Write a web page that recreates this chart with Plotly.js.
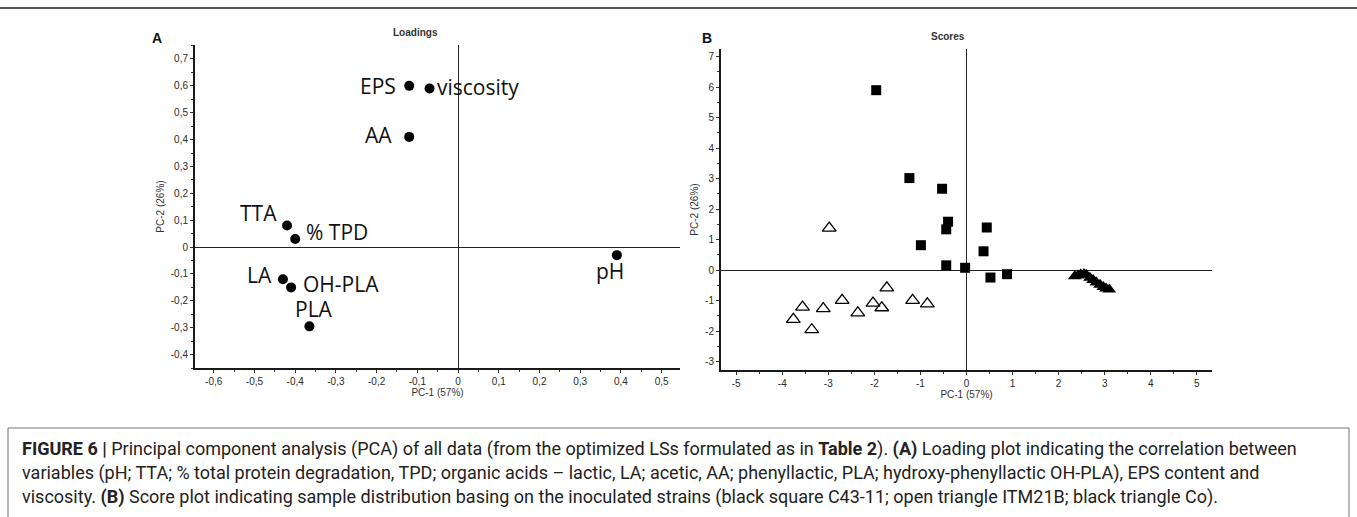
<!DOCTYPE html>
<html>
<head>
<meta charset="utf-8">
<script src="https://cdn.plot.ly/plotly-3.0.1.min.js"></script>
<style>
  html, body { margin: 0; padding: 0; background: #fff; }
  #chart { width: 1357px; height: 517px; }
</style>
</head>
<body>
<div id="chart"></div>
<script>
// ---------- DATA ----------
// Panel A: loadings
const loadLabels = ["EPS", "viscosity", "AA", "TTA", "% TPD", "LA", "OH-PLA", "PLA", "pH"];
const loadPC1 = [-0.12, -0.07, -0.12, -0.42, -0.40, -0.43, -0.41, -0.365, 0.39];
const loadPC2 = [0.60, 0.59, 0.41, 0.08, 0.03, -0.12, -0.15, -0.295, -0.03];

// Panel B: scores
const c43PC1 = [-1.96, -1.24, -0.53, -0.40, -0.44, -0.99, -0.44, -0.03, 0.44, 0.37, 0.52, 0.88];
const c43PC2 = [5.9, 3.02, 2.67, 1.59, 1.34, 0.82, 0.16, 0.08, 1.40, 0.62, -0.24, -0.13];

const itmPC1 = [-2.98, -3.56, -3.76, -3.36, -3.11, -2.70, -2.36, -2.03, -1.84, -1.73, -1.17, -0.85];
const itmPC2 = [1.38, -1.21, -1.61, -1.95, -1.26, -0.99, -1.40, -1.08, -1.23, -0.58, -0.99, -1.10];

const coPC1 = [2.35, 2.42, 2.48, 2.55, 2.60, 2.68, 2.75, 2.82, 2.90, 2.97, 3.03, 3.10];
const coPC2 = [-0.20, -0.17, -0.14, -0.12, -0.15, -0.25, -0.32, -0.40, -0.48, -0.55, -0.60, -0.63];

// Tick labels
const aTickX = [-0.6, -0.5, -0.4, -0.3, -0.2, -0.1, 0, 0.1, 0.2, 0.3, 0.4, 0.5];
const aTickXText = ["-0,6", "-0,5", "-0,4", "-0,3", "-0,2", "-0,1", "0", "0,1", "0,2", "0,3", "0,4", "0,5"];
const aTickY = [-0.4, -0.3, -0.2, -0.1, 0, 0.1, 0.2, 0.3, 0.4, 0.5, 0.6, 0.7];
const aTickYText = ["-0,4", "-0,3", "-0,2", "-0,1", "0", "0,1", "0,2", "0,3", "0,4", "0,5", "0,6", "0,7"];
const bTickX = [-5, -4, -3, -2, -1, 0, 1, 2, 3, 4, 5];
const bTickXText = ["-5", "-4", "-3", "-2", "-1", "0", "1", "2", "3", "4", "5"];
const bTickY = [-3, -2, -1, 0, 1, 2, 3, 4, 5, 6, 7];
const bTickYText = ["-3", "-2", "-1", "0", "1", "2", "3", "4", "5", "6", "7"];

// Texts
const titleA = "Loadings";
const titleB = "Scores";
const axisX = "PC-1 (57%)";
const axisY = "PC-2 (26%)";
const captionLines = [
  "<b>FIGURE 6 |</b> Principal component analysis (PCA) of all data (from the optimized LSs formulated as in <b>Table 2</b>). <b>(A)</b> Loading plot indicating the correlation between",
  "variables (pH; TTA; % total protein degradation, TPD; organic acids – lactic, LA; acetic, AA; phenyllactic, PLA; hydroxy-phenyllactic OH-PLA), EPS content and",
  "viscosity. <b>(B)</b> Score plot indicating sample distribution basing on the inoculated strains (black square C43-11; open triangle ITM21B; black triangle Co)."
];

// ---------- STYLE ----------
const W = 1357, H = 517;
const px = v => v / W;
const py = v => 1 - v / H;
// label placement relative to its point: [xanchor, xshift(px), yshift(px, up +)]
const labelPlace = [
  ["right", -12, 0],    // EPS
  ["left", 6, 2],       // viscosity
  ["right", -16, 2],    // AA
  ["right", -9, 13],    // TTA
  ["left", 10, 7],      // % TPD
  ["right", -10, 4],    // LA
  ["left", 11, 3],      // OH-PLA
  ["center", 5, 17],    // PLA
  ["center", -7, -16]   // pH
];
const labelFont = { family: "Open Sans, sans-serif", size: 21, color: "#111" };
const tickFont = { family: "Liberation Sans, Arial, sans-serif", size: 10, color: "#2a2a2a" };

function axisBase(extra) {
  return Object.assign({
    showgrid: false,
    showline: true,
    linewidth: 2,
    linecolor: "#1a1a1a",
    mirror: false,
    ticks: "outside",
    ticklen: 3,
    tickwidth: 1,
    tickcolor: "#333",
    tickfont: tickFont,
    zeroline: true,
    zerolinecolor: "#222",
    zerolinewidth: 1,
    automargin: false,
    fixedrange: true
  }, extra);
}

const traces = [
  {
    type: "scatter", mode: "markers", name: "loadings",
    x: loadPC1, y: loadPC2, text: loadLabels,
    marker: { symbol: "circle", size: 10, color: "#000" },
    xaxis: "x", yaxis: "y"
  },
  {
    type: "scatter", mode: "markers", name: "C43-11",
    x: c43PC1, y: c43PC2,
    marker: { symbol: "square", size: 10, color: "#000" },
    xaxis: "x2", yaxis: "y2"
  },
  {
    type: "scatter", mode: "markers", name: "ITM21B",
    x: itmPC1, y: itmPC2,
    marker: { symbol: "triangle-up-open", size: 12, color: "#000", line: { width: 1.3, color: "#000" } },
    xaxis: "x2", yaxis: "y2"
  },
  {
    type: "scatter", mode: "markers", name: "Co",
    x: coPC1, y: coPC2,
    marker: { symbol: "triangle-up", size: 12, color: "#000" },
    xaxis: "x2", yaxis: "y2"
  }
];

const annFont = { family: "Liberation Sans, Arial, sans-serif", size: 10, color: "#333" };
const annotations = [
  { xref: "paper", yref: "paper", x: px(415), y: py(33), text: "<b>" + titleA + "</b>", showarrow: false,
    xanchor: "center", yanchor: "middle", font: { family: "Liberation Sans, Arial, sans-serif", size: 10, color: "#333" } },
  { xref: "paper", yref: "paper", x: px(948), y: py(36), text: "<b>" + titleB + "</b>", showarrow: false,
    xanchor: "center", yanchor: "middle", font: { family: "Liberation Sans, Arial, sans-serif", size: 10, color: "#333" } },
  { xref: "paper", yref: "paper", x: px(157), y: py(38), text: "<b>A</b>", showarrow: false,
    xanchor: "center", yanchor: "middle", font: { family: "Liberation Sans, Arial, sans-serif", size: 14, color: "#111" } },
  { xref: "paper", yref: "paper", x: px(707), y: py(38), text: "<b>B</b>", showarrow: false,
    xanchor: "center", yanchor: "middle", font: { family: "Liberation Sans, Arial, sans-serif", size: 14, color: "#111" } }
];
loadLabels.forEach((lab, i) => {
  const p = labelPlace[i];
  annotations.push({
    xref: "x", yref: "y", x: loadPC1[i], y: loadPC2[i], text: lab, showarrow: false,
    xanchor: p[0], yanchor: "middle", xshift: p[1], yshift: p[2], borderpad: 0,
    font: labelFont
  });
});
const capY = [449, 473, 497];
captionLines.forEach((t, i) => {
  annotations.push({
    xref: "paper", yref: "paper", x: px(20), y: py(capY[i]), text: t, showarrow: false,
    xanchor: "left", yanchor: "middle", align: "left",
    font: { family: "Roboto, Liberation Sans, sans-serif", size: 18, color: "#222" }
  });
});

const layout = {
  width: W, height: H,
  margin: { l: 0, r: 0, t: 0, b: 0, pad: 0 },
  paper_bgcolor: "#fff",
  plot_bgcolor: "rgba(0,0,0,0)",
  showlegend: false,
  hovermode: false,
  xaxis: axisBase({
    domain: [px(195), px(680)], range: [-0.646, 0.545], anchor: "y",
    tickmode: "array", tickvals: aTickX, ticktext: aTickXText,
    minor: { tickmode: "linear", tick0: 0, dtick: 0.05, ticks: "outside", ticklen: 2, tickcolor: "#333" },
    title: { text: axisX, font: annFont, standoff: 3 }
  }),
  yaxis: axisBase({
    domain: [py(368), py(45)], range: [-0.45, 0.752], anchor: "x",
    tickmode: "array", tickvals: aTickY, ticktext: aTickYText,
    minor: { tickmode: "linear", tick0: 0, dtick: 0.05, ticks: "outside", ticklen: 2, tickcolor: "#333" },
    title: { text: axisY, font: annFont, standoff: 4 }
  }),
  xaxis2: axisBase({
    domain: [px(721), px(1212)], range: [-5.33, 5.33], anchor: "y2",
    tickmode: "array", tickvals: bTickX, ticktext: bTickXText,
    minor: { tickmode: "linear", tick0: 0, dtick: 0.5, ticks: "outside", ticklen: 2, tickcolor: "#333" },
    title: { text: axisX, font: annFont, standoff: 3 }
  }),
  yaxis2: axisBase({
    domain: [py(370), py(49)], range: [-3.27, 7.25], anchor: "x2",
    tickmode: "array", tickvals: bTickY, ticktext: bTickYText,
    minor: { tickmode: "linear", tick0: 0, dtick: 0.5, ticks: "outside", ticklen: 2, tickcolor: "#333" },
    title: { text: axisY, font: annFont, standoff: 5 }
  }),
  annotations: annotations,
  shapes: [
    { type: "line", xref: "paper", yref: "paper", x0: 0, x1: 1, y0: py(8), y1: py(8),
      line: { color: "#555", width: 2 } },
    { type: "rect", xref: "paper", yref: "paper", x0: px(8), x1: px(1349), y0: py(428), y1: py(530),
      line: { color: "#777", width: 1 } }
  ]
};

Plotly.newPlot("chart", traces, layout, { displayModeBar: false, staticPlot: true });
</script>
</body>
</html>
